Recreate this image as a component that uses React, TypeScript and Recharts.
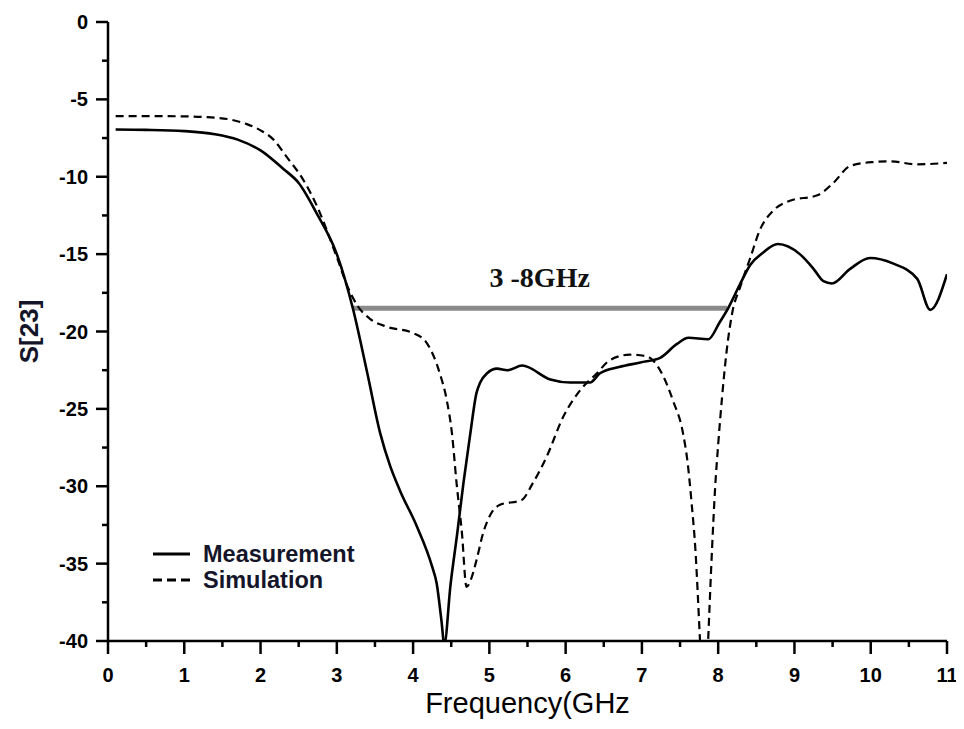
import { LineChart, Line, XAxis, YAxis, ReferenceLine, Label } from 'recharts';

const measFreq = [
  0.1, 0.5, 1.0, 1.4, 1.7, 2.0, 2.3, 2.5, 2.74, 3.0, 3.21, 3.4, 3.57, 3.7, 3.83, 4.05, 4.25, 4.31,
  4.37, 4.41, 4.49, 4.58, 4.66, 4.75, 4.83, 4.88, 4.97, 5.1, 5.24, 5.43, 5.8, 6.06, 6.32,
  6.45, 6.7, 6.98, 7.24, 7.46, 7.61, 7.87, 8.02, 8.13, 8.29, 8.42, 8.59, 8.78, 9.07, 9.25, 9.38,
  9.49, 9.73, 9.99, 10.29, 10.61, 10.78, 11.0,
];
const measValue = [
  -6.95, -6.97, -7.05, -7.25, -7.6, -8.3, -9.5, -10.4, -12.4, -15.0, -18.5, -22.7, -26.6, -28.7,
  -30.3, -32.6, -35.2, -36.3, -38.6, -40.2, -36.4, -33.0, -29.8, -26.6, -24.0, -23.3,
  -22.7, -22.4, -22.5, -22.2, -23.1, -23.3, -23.3, -22.7, -22.3, -22.0, -21.7, -20.8, -20.4,
  -20.5, -19.4, -18.5, -16.9, -15.7, -14.9, -14.35, -15.0, -15.95, -16.75, -16.9, -15.95,
  -15.25, -15.6, -16.6, -18.6, -16.3,
];

const simFreq = [
  0.1, 0.5, 1.0, 1.3, 1.6, 1.82, 2.0, 2.17, 2.34, 2.56, 2.74, 3.0, 3.15, 3.28, 3.44, 3.66, 4.0,
  4.18, 4.35, 4.44, 4.51, 4.57, 4.64, 4.7, 4.76, 4.83, 4.92, 5.03, 5.14, 5.42, 5.57, 5.75, 5.97,
  6.19, 6.41, 6.58, 6.84, 7.06, 7.26, 7.41, 7.54, 7.6, 7.65, 7.7, 7.76, 7.82, 7.87, 7.92, 7.96,
  8.0, 8.05, 8.11, 8.18, 8.29, 8.42, 8.55, 8.72, 8.94, 9.3, 9.51, 9.73, 10.03, 10.25, 10.61, 11.0,
];
const simValue = [
  -6.08, -6.08, -6.1, -6.15, -6.3, -6.6, -7.0, -7.6, -8.7, -10.2, -11.9, -15.2, -17.2, -18.4,
  -19.2, -19.7, -20.1, -20.75, -22.7, -24.4, -26.6, -29.8, -33.0, -36.5, -36.0, -34.8, -33.0,
  -31.7, -31.2, -30.9, -29.8, -28.1, -25.5, -23.8, -22.7, -21.85, -21.5, -21.6, -22.7, -24.5,
  -26.6, -28.5, -31.0, -34.0, -39.8, -46.0, -39.8, -34.0, -30.1, -27.3, -24.3, -21.3, -18.9,
  -17.1, -15.25, -13.4, -12.2, -11.55, -11.2, -10.4, -9.3, -9.05, -9.0, -9.2, -9.1,
];

const xTicks = [0, 0.5, 1, 1.5, 2, 2.5, 3, 3.5, 4, 4.5, 5, 5.5, 6, 6.5, 7, 7.5, 8, 8.5, 9, 9.5, 10, 10.5, 11];
const yTicks = [-40, -37.5, -35, -32.5, -30, -27.5, -25, -22.5, -20, -17.5, -15, -12.5, -10, -7.5, -5, -2.5, 0];

const bandFrom = 3.2;
const bandTo = 8.12;
const bandLevel = -18.5;

const measData = measFreq.map((f, i) => ({ f, v: measValue[i] }));
const simData = simFreq.map((f, i) => ({ f, v: simValue[i] }));

const tickFont = { fontFamily: 'Liberation Sans, Arial, sans-serif', fontWeight: 700, fontSize: 20 };

function XTick(props: any) {
  const { x, y, payload } = props;
  const major = Number.isInteger(payload.value);
  return (
    <g>
      <line x1={x} x2={x} y1={y} y2={y + (major ? 13 : 6)} stroke="#000" strokeWidth={2.5} />
      {major && (
        <text x={x} y={y + 41} textAnchor="middle" fill="#000" style={tickFont}>
          {payload.value}
        </text>
      )}
    </g>
  );
}

function YTick(props: any) {
  const { x, y, payload } = props;
  const major = Number.isInteger(payload.value);
  return (
    <g>
      <line x1={x} x2={x - (major ? 12 : 6)} y1={y} y2={y} stroke="#000" strokeWidth={2.5} />
      {major && (
        <text x={x - 20} y={y + 7} textAnchor="end" fill="#000" style={tickFont}>
          {payload.value}
        </text>
      )}
    </g>
  );
}

const legendText = {
  fontFamily: 'Liberation Sans, Arial, sans-serif',
  fontWeight: 700,
  fontSize: 23.5,
  color: '#15152a',
};

export default function App() {
  return (
    <div style={{ position: 'relative', width: 956, height: 713 }}>
      <LineChart
        width={956}
        height={713}
        margin={{ top: 14, right: 17, bottom: 0, left: 0 }}
        style={{ background: '#fff' }}
      >
        <XAxis
          dataKey="f"
          type="number"
          domain={[0, 11]}
          ticks={xTicks}
          interval={0}
          height={80}
          tickSize={0}
          tickMargin={0}
          tick={<XTick />}
          axisLine={{ stroke: '#000', strokeWidth: 2.5 }}
          tickLine={false}
          allowDataOverflow
        >
          <Label
            value="Frequency(GHz"
            position="insideBottom"
            offset={8}
            style={{ fontFamily: 'Liberation Sans, Arial, sans-serif', fontSize: 29, fill: '#000' }}
          />
        </XAxis>
        <XAxis
          xAxisId="top"
          orientation="top"
          type="number"
          domain={[0, 11]}
          height={0}
          tick={false}
          tickLine={false}
          axisLine={{ stroke: '#000', strokeWidth: 2.5 }}
        />
        <YAxis
          type="number"
          domain={[-40, 0]}
          ticks={yTicks}
          interval={0}
          width={100}
          tickSize={0}
          tickMargin={0}
          tick={<YTick />}
          axisLine={{ stroke: '#000', strokeWidth: 2.5 }}
          tickLine={false}
          allowDataOverflow
        >
          <Label
            value="S[23]"
            angle={-90}
            position="insideLeft"
            offset={21}
            style={{
              textAnchor: 'middle',
              fontFamily: 'Liberation Sans, Arial, sans-serif',
              fontWeight: 700,
              fontSize: 26,
              fill: '#15152a',
            }}
          />
        </YAxis>
        <YAxis
          yAxisId="right"
          orientation="right"
          type="number"
          domain={[-40, 0]}
          width={0}
          tick={false}
          tickLine={false}
          axisLine={{ stroke: '#000', strokeWidth: 2.5 }}
        />
        <ReferenceLine
          segment={[
            { x: bandFrom, y: bandLevel },
            { x: bandTo, y: bandLevel },
          ]}
          stroke="#8a8a8a"
          strokeWidth={5}
          label={{
            value: '3 -8GHz',
            position: 'top',
            offset: 21,
            style: { fontFamily: 'Liberation Serif, Times New Roman, serif', fontWeight: 700, fontSize: 28, fill: '#111' },
          }}
        />
        <Line
          data={simData}
          dataKey="v"
          type="monotone"
          stroke="#000"
          strokeWidth={2.2}
          strokeDasharray="8 5"
          dot={false}
          isAnimationActive={false}
        />
        <Line
          data={measData}
          dataKey="v"
          type="monotone"
          stroke="#000"
          strokeWidth={2.6}
          dot={false}
          isAnimationActive={false}
        />
      </LineChart>
      <div style={{ position: 'absolute', left: 145, top: 533, ...legendText }}>
        <div style={{ display: 'flex', alignItems: 'center', height: 26 }}>
          <svg width={50} height={10}>
            <line x1={0} x2={37} y1={5} y2={5} stroke="#000" strokeWidth={3} />
          </svg>
          <span>Measurement</span>
        </div>
        <div style={{ display: 'flex', alignItems: 'center', height: 26 }}>
          <svg width={50} height={10}>
            <line x1={0} x2={37} y1={5} y2={5} stroke="#000" strokeWidth={3} strokeDasharray="9 5" />
          </svg>
          <span>Simulation</span>
        </div>
      </div>
    </div>
  );
}
